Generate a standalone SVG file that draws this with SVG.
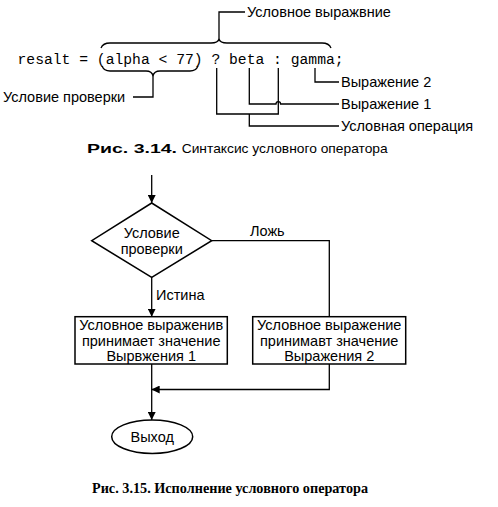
<svg xmlns="http://www.w3.org/2000/svg" width="498" height="507" viewBox="0 0 498 507">
<defs>
<style>
.t{font-family:"Liberation Sans",Arial,sans-serif;font-size:14.5px;fill:#000}
.c{text-anchor:middle}
.code{font-family:"Liberation Mono","Courier New",monospace;font-size:14.7px;fill:#000}
.ln{fill:none;stroke:#000;stroke-width:1.3}
.box{fill:#fff;stroke:#000;stroke-width:1.5}
.cap1{font-family:"Liberation Sans",Arial,sans-serif;font-size:13.5px;fill:#000}
.cap2{font-family:"Liberation Serif","Times New Roman",serif;font-size:15px;font-weight:bold;fill:#000}
</style>
<marker id="ah" viewBox="0 0 10 10" refX="10" refY="5" markerWidth="8" markerHeight="8" markerUnits="userSpaceOnUse" orient="auto">
<path d="M0,0 L10,5 L0,10 z" fill="#000"/>
</marker>
</defs>
<rect width="498" height="507" fill="#fff"/>

<g id="syntax">
<text class="code" x="17.5" y="64">resalt = (alpha &lt; 77) ? beta : gamma;</text>
<path class="ln" d="M101,48 Q103,43 110,43 L211,43 Q218,43 219,39 Q220,43 227,43 L322,43 Q329,43 331,48"/>
<path class="ln" d="M219,39 L219,12 L245,12"/>
<text class="t" x="247" y="17">Условное выражвние</text>
<path class="ln" d="M102,66 Q104,71 110,71 L146,71 Q152,71 153,76 Q154,71 160,71 L190,71 Q196,71 198,66"/>
<path class="ln" d="M153,76 L153,97 L133,97"/>
<text class="t" x="3" y="102">Условие проверки</text>
<path class="ln" d="M315,68 L315,82 L339,82"/>
<text class="t" x="341" y="87">Выражение 2</text>
<path class="ln" d="M249.3,68 L249.3,104 L276,104 A2.3,2.3 0 0 1 280.6,104 L339,104"/>
<text class="t" x="341" y="109">Выражение 1</text>
<path class="ln" d="M216.7,68 L216.7,114 L278.3,114 L278.3,68"/>
<path class="ln" d="M249.3,114 L249.3,126 L339,126"/>
<text class="t" x="341" y="131">Условная операция</text>
<text class="cap1" x="87" y="153" font-weight="bold" textLength="90" lengthAdjust="spacingAndGlyphs">Рис. 3.14.</text>
<text class="cap1" x="181.7" y="153" textLength="206" lengthAdjust="spacingAndGlyphs">Синтаксис условного оператора</text>
</g>

<g id="connectors">
<path class="ln" d="M151.7,175 L151.7,203" marker-end="url(#ah)"/>
<path class="ln" d="M211.7,240.7 L329.3,240.7 L329.3,316.7"/>
<path class="ln" d="M151.7,277.3 L151.7,316.7" marker-end="url(#ah)"/>
<path class="ln" d="M151.7,364 L151.7,420" marker-end="url(#ah)"/>
<path class="ln" d="M329.3,364 L329.3,389.5 L151.7,389.5" marker-end="url(#ah)"/>
<text class="t" x="250" y="236">Ложь</text>
<text class="t" x="156" y="300">Истина</text>
</g>

<g id="decision">
<path class="box" d="M151.7,203 L211.7,240.7 L151.7,277.3 L91.7,240.7 z"/>
<text class="t c" x="151.7" y="238">Условие</text>
<text class="t c" x="151.7" y="254">проверки</text>
</g>

<g id="box1">
<rect class="box" x="75" y="316.7" width="152.3" height="47.3"/>
<text class="t c" x="151.2" y="330">Условное выраженив</text>
<text class="t c" x="151.2" y="346">принимает значение</text>
<text class="t c" x="151.2" y="361">Вырвжения 1</text>
</g>

<g id="box2">
<rect class="box" x="252.7" y="316.7" width="153" height="47.3"/>
<text class="t c" x="329.2" y="330">Условное выражение</text>
<text class="t c" x="329.2" y="346">принимавт значение</text>
<text class="t c" x="329.2" y="361">Выражения 2</text>
</g>

<g id="exit">
<ellipse class="box" cx="152.2" cy="436.7" rx="40.5" ry="16.7"/>
<text class="t c" x="152.2" y="442">Выход</text>
</g>

<text class="cap2" x="92" y="492.5" textLength="276" lengthAdjust="spacingAndGlyphs">Рис. 3.15. Исполнение условного оператора</text>
</svg>
